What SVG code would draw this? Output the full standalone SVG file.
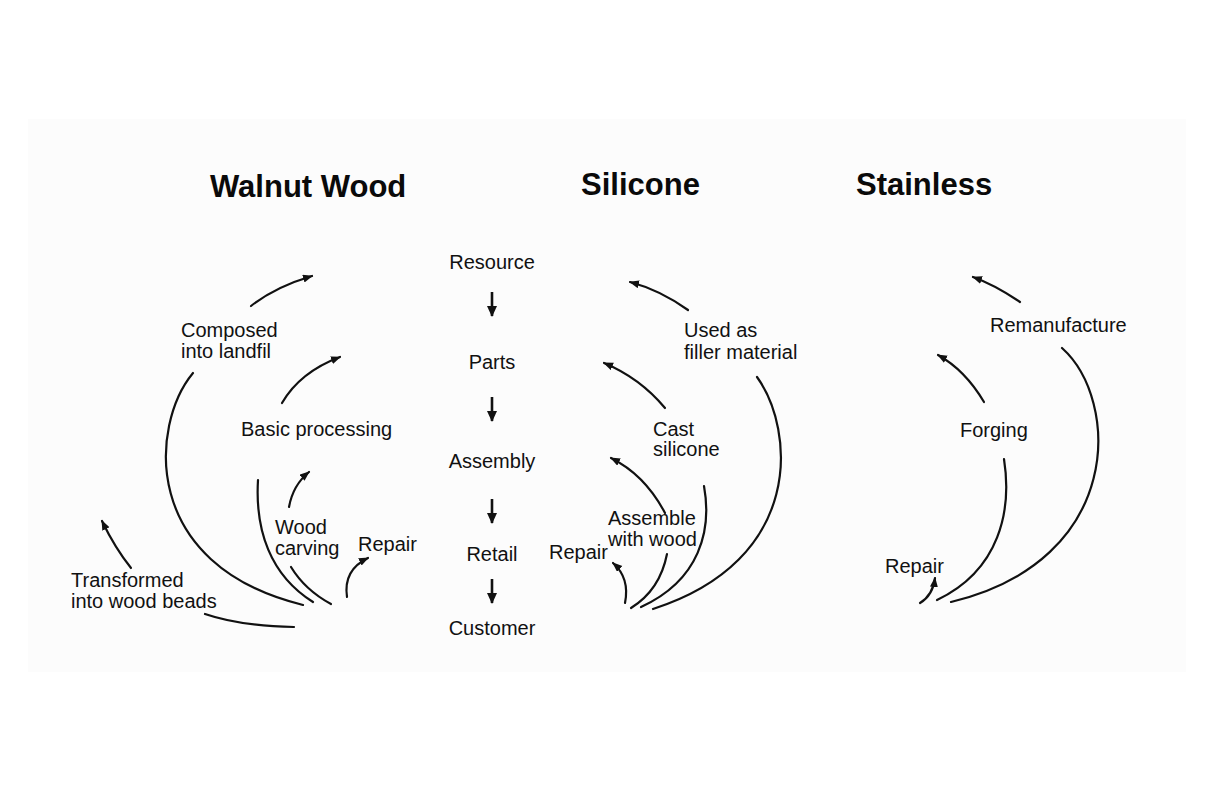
<svg xmlns="http://www.w3.org/2000/svg" width="1224" height="792" viewBox="0 0 1224 792">
  <style>
    .title { font-family: "Liberation Sans", Arial, sans-serif; font-weight: bold; font-size: 31px; fill: #0a0a0a; }
    .lbl { font-family: "Liberation Sans", Arial, sans-serif; font-size: 20px; fill: #111; }
    .mid { text-anchor: middle; }
    .c { fill: none; stroke: #111; stroke-width: 2.2; stroke-linecap: round; }
    .a { marker-end: url(#ah); }
    .v { fill: none; stroke: #111; stroke-width: 2.6; marker-end: url(#ahb); }
  </style>
  <defs>
    <marker id="ah" markerUnits="userSpaceOnUse" markerWidth="12" markerHeight="10" refX="9" refY="4" orient="auto">
      <path d="M0,0 L10,4 L0,8 Z" fill="#111"/>
    </marker>
    <marker id="ahb" markerUnits="userSpaceOnUse" markerWidth="14" markerHeight="12" refX="10" refY="5" orient="auto">
      <path d="M0,0 L11,5 L0,10 Z" fill="#111"/>
    </marker>
  </defs>
  <rect x="0" y="0" width="1224" height="792" fill="#ffffff"/>
  <rect x="28" y="119" width="1158" height="553" fill="#fcfcfc"/>

  <g id="titles">
    <text id="title-walnut" class="title" x="210" y="197">Walnut Wood</text>
    <text id="title-silicone" class="title" x="581" y="195">Silicone</text>
    <text id="title-stainless" class="title" x="856" y="195">Stainless</text>
  </g>

  <g id="node-resource"><text class="lbl mid" x="492" y="269">Resource</text></g>
  <g id="node-parts"><text class="lbl mid" x="492" y="369">Parts</text></g>
  <g id="node-assembly"><text class="lbl mid" x="492" y="468">Assembly</text></g>
  <g id="node-retail"><text class="lbl mid" x="492" y="561">Retail</text></g>
  <g id="node-customer"><text class="lbl mid" x="492" y="635">Customer</text></g>

  <g id="node-composed"><text class="lbl" x="181" y="337">Composed</text><text class="lbl" x="181" y="358">into landfil</text></g>
  <g id="node-basic"><text class="lbl" x="241" y="436">Basic processing</text></g>
  <g id="node-carving"><text class="lbl" x="275" y="534">Wood</text><text class="lbl" x="275" y="555">carving</text></g>
  <g id="node-repair-w"><text class="lbl" x="358" y="551">Repair</text></g>
  <g id="node-beads"><text class="lbl" x="71" y="587">Transformed</text><text class="lbl" x="71" y="608">into wood beads</text></g>

  <g id="node-filler"><text class="lbl" x="684" y="337">Used as</text><text class="lbl" x="684" y="359">filler material</text></g>
  <g id="node-cast"><text class="lbl" x="653" y="436">Cast</text><text class="lbl" x="653" y="456">silicone</text></g>
  <g id="node-assemble"><text class="lbl" x="608" y="525">Assemble</text><text class="lbl" x="608" y="546">with wood</text></g>
  <g id="node-repair-s"><text class="lbl" x="549" y="559">Repair</text></g>

  <g id="node-reman"><text class="lbl" x="990" y="332">Remanufacture</text></g>
  <g id="node-forging"><text class="lbl" x="960" y="437">Forging</text></g>
  <g id="node-repair-st"><text class="lbl" x="885" y="573">Repair</text></g>

  <g id="connectors">
    <!-- center chain -->
    <path class="v" d="M492,292 L492,316"/>
    <path class="v" d="M492,397 L492,421"/>
    <path class="v" d="M492,499 L492,523"/>
    <path class="v" d="M492,579 L492,603"/>

    <!-- walnut wood -->
    <path class="c a" d="M251,306 Q275,287 312,276"/>
    <path class="c" d="M193,373 C150,425 140,565 303,605"/>
    <path class="c a" d="M282,403 Q300,372 340,357"/>
    <path class="c" d="M258,480 C255,530 270,575 313,602"/>
    <path class="c a" d="M289,507 Q293,485 309,472"/>
    <path class="c" d="M291,567 Q305,590 331,604"/>
    <path class="c a" d="M347,597 Q343,570 368,558"/>
    <path class="c a" d="M131,568 Q115,548 102,521"/>
    <path class="c" d="M205,614 Q240,626 294,627"/>

    <!-- silicone -->
    <path class="c a" d="M688,310 Q660,290 630,282"/>
    <path class="c" d="M757,377 C795,430 805,560 653,609"/>
    <path class="c a" d="M665,408 Q640,378 604,363"/>
    <path class="c" d="M704,486 C712,530 700,580 641,607"/>
    <path class="c a" d="M665,513 Q645,475 611,458"/>
    <path class="c" d="M667,554 Q660,590 631,608"/>
    <path class="c a" d="M625,603 Q630,578 613,563"/>

    <!-- stainless -->
    <path class="c a" d="M1020,302 Q995,285 973,277"/>
    <path class="c" d="M1062,348 C1120,400 1125,560 951,602"/>
    <path class="c a" d="M984,402 Q965,370 938,355"/>
    <path class="c" d="M1004,459 C1012,510 1000,570 937,600"/>
    <path class="c a" d="M920,603 Q933,595 935,578"/>
  </g>
</svg>
